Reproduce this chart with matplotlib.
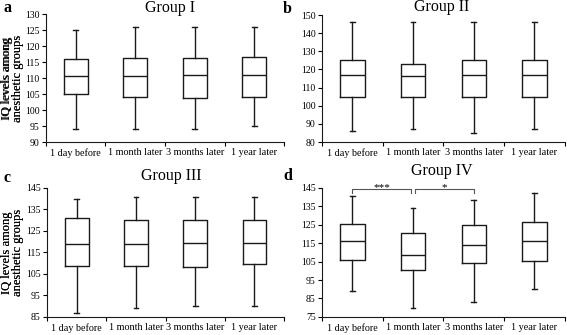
import matplotlib
matplotlib.use("Agg")
import matplotlib.pyplot as plt

plt.rcParams['font.family'] = ['Liberation Serif', 'DejaVu Serif']

# 数据：每组的 最小值 / Q1 / 中位数 / Q3 / 最大值
categories = ['1 day before', '1 month later', '3 months later', '1 year later']

g1_low = [94, 94, 94, 95]
g1_q1 = [104.9, 104.1, 103.9, 104.1]
g1_med = [110.7, 110.6, 110.8, 111.0]
g1_q3 = [115.9, 116.3, 116.3, 116.6]
g1_high = [125, 126, 126, 126]

g2_low = [86, 87, 85, 87]
g2_q1 = [105, 105, 105, 105]
g2_med = [116.9, 116.5, 116.9, 117.2]
g2_q3 = [125, 123.2, 125, 125]
g2_high = [146, 146, 146, 146]

g3_low = [87, 89, 90, 90]
g3_q1 = [108.6, 108.6, 108.0, 109.6]
g3_med = [119.0, 119.0, 119.4, 119.4]
g3_q3 = [131.1, 130.2, 130.2, 130.2]
g3_high = [140, 141, 141, 141]

g4_low = [89, 80, 83, 90]
g4_q1 = [106.0, 100.2, 104.2, 105.2]
g4_med = [116.0, 108.8, 114.0, 116.0]
g4_q3 = [125.3, 120.3, 124.7, 126.3]
g4_high = [140.5, 134.3, 138.3, 142.3]

W, H = 567, 335

# letter, title, data, y range, axes rect, (title x, title baseline), (letter x, letter baseline) in pixels
panels = [
    ('a', 'Group I', (g1_low, g1_q1, g1_med, g1_q3, g1_high), (90, 130, 5),
     [0.081, 0.576, 0.420, 0.382], (170, 12), (3, 12)),
    ('b', 'Group II', (g2_low, g2_q1, g2_med, g2_q3, g2_high), (80, 150, 10),
     [0.568, 0.576, 0.428, 0.379], (442, 11), (283, 13)),
    ('c', 'Group III', (g3_low, g3_q1, g3_med, g3_q3, g3_high), (85, 145, 10),
     [0.083, 0.054, 0.418, 0.385], (171, 180), (3, 182)),
    ('d', 'Group IV', (g4_low, g4_q1, g4_med, g4_q3, g4_high), (75, 145, 10),
     [0.568, 0.054, 0.428, 0.385], (442, 175), (283, 180)),
]

fig = plt.figure(figsize=(W / 100, H / 100), dpi=100)
lc = '#1a1a1a'

for letter, title, (lows, q1s, meds, q3s, highs), (ymin, ymax, step), rect, tpos, lpos in panels:
    ax = fig.add_axes(rect)
    stats = []
    for i in range(len(categories)):
        stats.append({'whislo': lows[i], 'q1': q1s[i], 'med': meds[i],
                      'q3': q3s[i], 'whishi': highs[i], 'fliers': []})
    ax.bxp(stats, positions=range(len(categories)), widths=0.4,
           capwidths=0.08, showfliers=False,
           boxprops=dict(color=lc, linewidth=1.0),
           medianprops=dict(color=lc, linewidth=1.0),
           whiskerprops=dict(color=lc, linewidth=1.0),
           capprops=dict(color=lc, linewidth=1.0))

    ax.set_xlim(-0.5, len(categories) - 0.5)
    ax.set_ylim(ymin, ymax)
    ax.set_yticks(range(ymin, ymax + 1, step))
    ax.set_xticks([i - 0.5 for i in range(len(categories) + 1)])
    ax.set_xticklabels([])
    ax.set_xticks(range(len(categories)), minor=True)
    ax.set_xticklabels(categories, minor=True)
    ax.tick_params(axis='x', which='minor', length=0, labelsize=7.3, pad=4.5)
    ax.tick_params(axis='x', which='major', length=3, width=0.8, direction='out')
    ax.tick_params(axis='y', length=3, width=0.8, labelsize=7, pad=1.5)
    for s in ['top', 'right']:
        ax.spines[s].set_visible(False)
    for s in ['left', 'bottom']:
        ax.spines[s].set_linewidth(0.8)
        ax.spines[s].set_color(lc)

    ax.set_ylabel('IQ levels among\nanesthetic groups', fontsize=9, linespacing=0.95)
    ax.yaxis.label.set_verticalalignment('center')
    ax_left_px = rect[0] * W
    ax.yaxis.set_label_coords((12.5 - ax_left_px) / (rect[2] * W), 0.5)

    fig.text(tpos[0] / W, 1 - tpos[1] / H, title, fontsize=11.5,
             ha='center', va='baseline')
    fig.text(lpos[0] / W, 1 - lpos[1] / H, letter, fontsize=11.5,
             fontweight='bold', ha='left', va='baseline')

    if letter == 'd':
        # 显著性标注
        top, tip = 144.4, 142.3
        for x0, x1, lab in [(0, 0.97, '***'), (1.03, 2, '*')]:
            ax.plot([x0, x0, x1, x1], [tip, top, top, tip], color='#555555',
                    linewidth=0.8, clip_on=False)
            ax.text((x0 + x1) / 2, 143.6, lab, ha='center', va='baseline',
                    fontsize=8, clip_on=False)

fig.savefig('out.png', dpi=100)
